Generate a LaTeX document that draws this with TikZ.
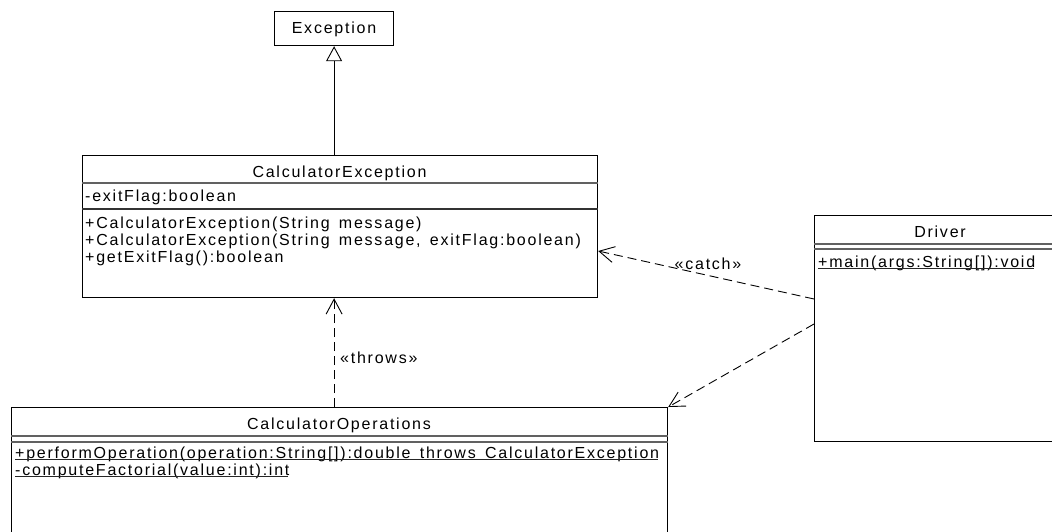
\documentclass[tikz,border=0pt]{standalone}
\usepackage{fontspec}
\setmainfont[LetterSpace=11,WordSpace=1.5]{Liberation Sans}
\usetikzlibrary{arrows.meta,calc}
\begin{document}
\begin{tikzpicture}[x=1pt,y=-1pt,
  font=\fontsize{16}{18}\selectfont,
  box/.style={draw=black, line width=1.2pt, fill=white, inner sep=0pt, anchor=north west},
  txt/.style={inner sep=0pt, anchor=base west},
  ttl/.style={inner sep=0pt, anchor=base},
  sepline/.style={draw=black!62, line width=1.8pt},
  thinsep/.style={draw=black!80, line width=1.3pt},
  ul/.style={draw=black!85, line width=0.8pt},
  dep/.style={draw=black, line width=0.9pt, dash pattern=on 9pt off 5pt,
    -{Straight Barb[length=15pt,width=16pt,line width=0.9pt]}},
  gen/.style={draw=black, line width=0.9pt,
    -{Triangle[open,length=15pt,width=16pt,fill=white,line width=0.9pt]}},
  lbl/.style={inner sep=0pt, anchor=base}
]
\useasboundingbox (0,0) rectangle (1052,531);
\clip (0,0) rectangle (1052,531);

% ---------- Exception ----------
\node[box, minimum width=119pt, minimum height=34pt] (exc) at (274,11) {};
\node[ttl] (excT) at (334,33) {Exception};

% ---------- CalculatorException ----------
\node[box, minimum width=515pt, minimum height=142pt] (ce) at (82,155) {};
\draw[sepline] ($(ce.north west)+(0,28)$) -- ($(ce.north east)+(0,28)$);
\draw[thinsep] ($(ce.north west)+(0,54)$) -- ($(ce.north east)+(0,54)$);
\node[ttl] (ceT) at (339.5,177) {CalculatorException};
\node[txt] (ceA) at (85,201) {-exitFlag:boolean};
\node[txt] (ceM1) at (85,228) {+CalculatorException(String message)};
\node[txt] (ceM2) at (85,245) {+CalculatorException(String message, exitFlag:boolean)};
\node[txt] (ceM3) at (85,262) {+getExitFlag():boolean};

% ---------- Driver ----------
\node[box, minimum width=252pt, minimum height=226pt] (drv) at (814,215) {};
\draw[sepline] ($(drv.north west)+(0,29)$) -- ($(drv.north east)+(0,29)$);
\draw[sepline] ($(drv.north west)+(0,34)$) -- ($(drv.north east)+(0,34)$);
\node[ttl] (drvT) at (940,237) {Driver};
\node[txt] (drvM1) at (818,267) {+main(args:String[]):void};
\draw[ul] ($(drvM1.base west)+(0,1.5)$) -- ($(drvM1.base east)+(-1.5,1.5)$);

% ---------- CalculatorOperations ----------
\node[box, minimum width=656pt, minimum height=150pt] (ops) at (11,407) {};
\draw[sepline] ($(ops.north west)+(0,29)$) -- ($(ops.north east)+(0,29)$);
\draw[sepline] ($(ops.north west)+(0,35)$) -- ($(ops.north east)+(0,35)$);
\node[ttl] (opsT) at (339,429) {CalculatorOperations};
\node[txt] (opsM1) at (15,458) {+performOperation(operation:String[]):double throws CalculatorException};
\node[txt] (opsM2) at (15,475) {-computeFactorial(value:int):int};
\draw[ul] ($(opsM1.base west)+(0,1.5)$) -- ($(opsM1.base east)+(-1.5,1.5)$);
\draw[ul] ($(opsM2.base west)+(0,1.5)$) -- ($(opsM2.base east)+(-1.5,1.5)$);

% ---------- Connectors ----------
% generalisation
\draw[gen] (exc.south |- ce.north) -- (exc.south);
% throws dependency
\draw[dep] (exc.south |- ops.north) -- (exc.south |- ce.south);
\node[txt] (thrL) at (340,363) {«throws»};
% catch dependency
\coordinate (catchS) at ($(drv.north west)+(0,84)$);
\coordinate (catchE) at ($(ce.north east)+(0,96)$);
\draw[dep] (catchS) -- (catchE);
\node[lbl] (catchL) at (708,269) {«catch»};
% Driver uses CalculatorOperations
\coordinate (useS) at ($(drv.north west)+(0,109)$);
\draw[dep] (useS) -- (ops.north east);
\end{tikzpicture}
\end{document}
